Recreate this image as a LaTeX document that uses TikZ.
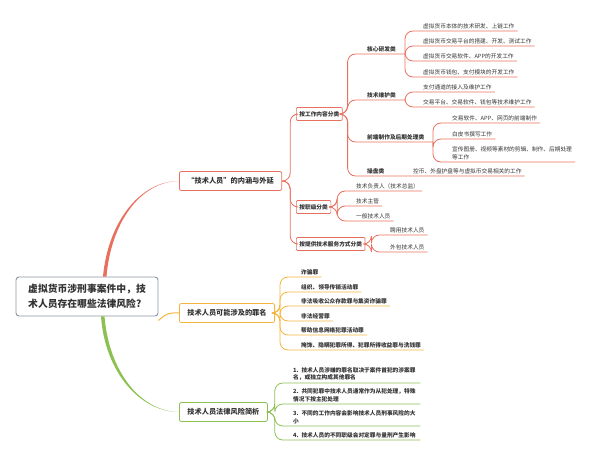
\documentclass[tikz,border=0pt]{standalone}
\usepackage{fontspec}
\setmainfont{Noto Sans CJK SC}
\usepackage{xcolor}
\definecolor{mm-red}{HTML}{E8705E}
\definecolor{mm-orange}{HTML}{F4B63F}
\definecolor{mm-green}{HTML}{8CC152}
\definecolor{mm-grey}{HTML}{8A97A5}
\definecolor{mm-text}{HTML}{333333}
\tikzset{
    root-box/.style = {draw=mm-grey, fill=white, line width=0.9pt, rectangle, rounded corners=3pt, minimum width=142pt, minimum height=39pt, text=mm-text, font=\fontsize{9.8}{15}\selectfont\bfseries, align=left},
    branch-box/.style = {draw=#1, fill=white, line width=0.8pt, rectangle, rounded corners=2pt, minimum height=19pt, inner xsep=8pt, anchor=west, text=mm-text, font=\fontsize{7.2}{8}\selectfont\bfseries},
    sub-box/.style = {draw=mm-red, fill=white, line width=0.7pt, rectangle, rounded corners=1pt, minimum height=13pt, inner xsep=3pt, anchor=west, text=mm-text, font=\fontsize{5.7}{7}\selectfont\bfseries},
    head-text/.style = {anchor=south west, inner xsep=3pt, inner ysep=2pt, text=mm-text, font=\fontsize{5.7}{7}\selectfont\bfseries},
    leaf-text/.style = {anchor=south west, inner xsep=3pt, inner ysep=2pt, text=mm-text, align=left, font=\fontsize{5.7}{7.8}\selectfont},
    bold-leaf/.style = {leaf-text, font=\fontsize{5.7}{7.8}\selectfont\bfseries},
    link/.style = {draw=#1, line width=0.8pt, rounded corners=8pt},
}

\begin{document}
\begin{tikzpicture}[x=1pt, y=-1pt]
\useasboundingbox (0,0) rectangle (600,463);

% root and main branches
\node [root-box] (root) at (87,296.5) {虚拟货币涉刑事案件中，技\\术人员存在哪些法律风险?};
\node [branch-box=mm-red] (inner) at (179,181) {“技术人员”的内涵与外延};
\node [branch-box=mm-orange] (crime) at (179,313) {技术人员可能涉及的罪名};
\node [branch-box=mm-green] (risk) at (179,412) {技术人员法律风险简析};

\fill [mm-red] ([xshift=16pt]root.north) .. controls (108,222) and (140,181) .. (inner.west) .. controls (140,181.6) and (111,223) .. ([xshift=19.5pt]root.north) -- cycle;
\fill [mm-green] ([xshift=14pt]root.south) .. controls (105,372) and (140,412) .. (risk.west) .. controls (140,411.4) and (109,371) .. ([xshift=17.5pt]root.south) -- cycle;
\draw [mm-orange, line width=1pt] ([yshift=-4pt]root.south east) .. controls (168,312) and (170,313) .. (crime.west);

% by work content
\node [sub-box] (content) at (296,114) {按工作内容分类};
\node [sub-box] (rank) at (296,207) {按职级分类};
\node [sub-box] (service) at (296,244) {按提供技术服务方式分类};
\draw [link=mm-red] (inner.east) -- ++(8,0) |- (content.west);
\draw [link=mm-red] (inner.east) -- ++(8,0) |- (rank.west);
\draw [link=mm-red] (inner.east) -- ++(8,0) |- (service.west);

\node [head-text] (core) at (364,54) {核心研发类};
\node [head-text] (maint) at (364,100) {技术维护类};
\node [head-text] (front) at (364,142) {前端制作及后期处理类};
\node [head-text] (trade) at (364,176) {操盘类};
\coordinate (core-fork) at (405,54);
\coordinate (maint-fork) at (405,100);
\coordinate (front-fork) at (433,142);

\node [leaf-text] (core-a) at (420,31) {虚拟货币本体的技术研发、上链工作};
\node [leaf-text] (core-b) at (420,46) {虚拟货币交易平台的搭建、开发、测试工作};
\node [leaf-text] (core-c) at (420,61) {虚拟货币交易软件、APP的开发工作};
\node [leaf-text] (core-d) at (420,77) {虚拟货币钱包、支付模块的开发工作};
\node [leaf-text] (maint-a) at (420,92) {支付通道的接入及维护工作};
\node [leaf-text] (maint-b) at (420,107) {交易平台、交易软件、钱包等技术维护工作};
\node [leaf-text] (front-a) at (449,123) {交易软件、APP、网页的前端制作};
\node [leaf-text] (front-b) at (449,139) {白皮书撰写工作};
\node [leaf-text] (front-c) at (449,162) {宣传图册、视频等素材的剪辑、制作、后期处理\\等工作};
\node [leaf-text] (trade-a) at (410,176) {控币、外盘护盘等与虚拟币交易相关的工作};

\draw [link=mm-red] (content.east) -- ++(5,0) |- (core.south west) -- (core-fork);
\draw [link=mm-red] (content.east) -- ++(5,0) |- (maint.south west) -- (maint-fork);
\draw [link=mm-red] (content.east) -- ++(5,0) |- (front.south west) -- (front-fork);
\draw [link=mm-red] (content.east) -- ++(5,0) |- (trade.south west) -- (trade-a.south east);
\foreach \leaf in {core-a, core-b, core-c, core-d}
    \draw [link=mm-red] (core-fork) |- (\leaf.south west) -- (\leaf.south east);
\foreach \leaf in {maint-a, maint-b}
    \draw [link=mm-red] (maint-fork) |- (\leaf.south west) -- (\leaf.south east);
\foreach \leaf in {front-a, front-b, front-c}
    \draw [link=mm-red] (front-fork) |- (\leaf.south west) -- (\leaf.south east);

% by rank and by service
\node [leaf-text] (rank-a) at (353,191) {技术负责人（技术总监）};
\node [leaf-text] (rank-b) at (353,206) {技术主管};
\node [leaf-text] (rank-c) at (353,221) {一般技术人员};
\node [leaf-text] (service-a) at (387,235) {聘用技术人员};
\node [leaf-text] (service-b) at (387,252) {外包技术人员};
\foreach \leaf in {rank-a, rank-b, rank-c}
    \draw [link=mm-red] (rank.east) -- ++(6,0) |- (\leaf.south west) -- (\leaf.south east);
\foreach \leaf in {service-a, service-b}
    \draw [link=mm-red] (service.east) -- ++(6,0) |- (\leaf.south west) -- (\leaf.south east);

% crimes
\node [bold-leaf] (crime-a) at (298,277) {诈骗罪};
\node [bold-leaf] (crime-b) at (298,292) {组织、领导传销活动罪};
\node [bold-leaf] (crime-c) at (298,306) {非法吸收公众存款罪与集资诈骗罪};
\node [bold-leaf] (crime-d) at (298,321) {非法经营罪};
\node [bold-leaf] (crime-e) at (298,335) {帮助信息网络犯罪活动罪};
\node [bold-leaf] (crime-f) at (298,350) {掩饰、隐瞒犯罪所得、犯罪所得收益罪与洗钱罪};
\foreach \leaf in {crime-a, crime-b, crime-c, crime-d, crime-e, crime-f}
    \draw [link=mm-orange] (crime.east) -- ++(5,0) |- (\leaf.south west) -- (\leaf.south east);

% risk analysis
\node [bold-leaf, text width=124pt] (risk-a) at (290,383) {1. 技术人员涉嫌的罪名取决于案件首犯的涉案罪\\名，或独立构成其他罪名};
\node [bold-leaf, text width=124pt] (risk-b) at (290,404) {2. 共同犯罪中技术人员通常作为从犯处理，特殊\\情况下按主犯处理};
\node [bold-leaf, text width=124pt] (risk-c) at (290,426) {3. 不同的工作内容会影响技术人员刑事风险的大\\小};
\node [bold-leaf, text width=124pt] (risk-d) at (290,440) {4. 技术人员的不同职级会对定罪与量刑产生影响};
\foreach \leaf in {risk-a, risk-b, risk-c, risk-d}
    \draw [link=mm-green] (risk.east) -- ++(7,0) |- (\leaf.south west) -- (\leaf.south east);
\end{tikzpicture}
\end{document}
